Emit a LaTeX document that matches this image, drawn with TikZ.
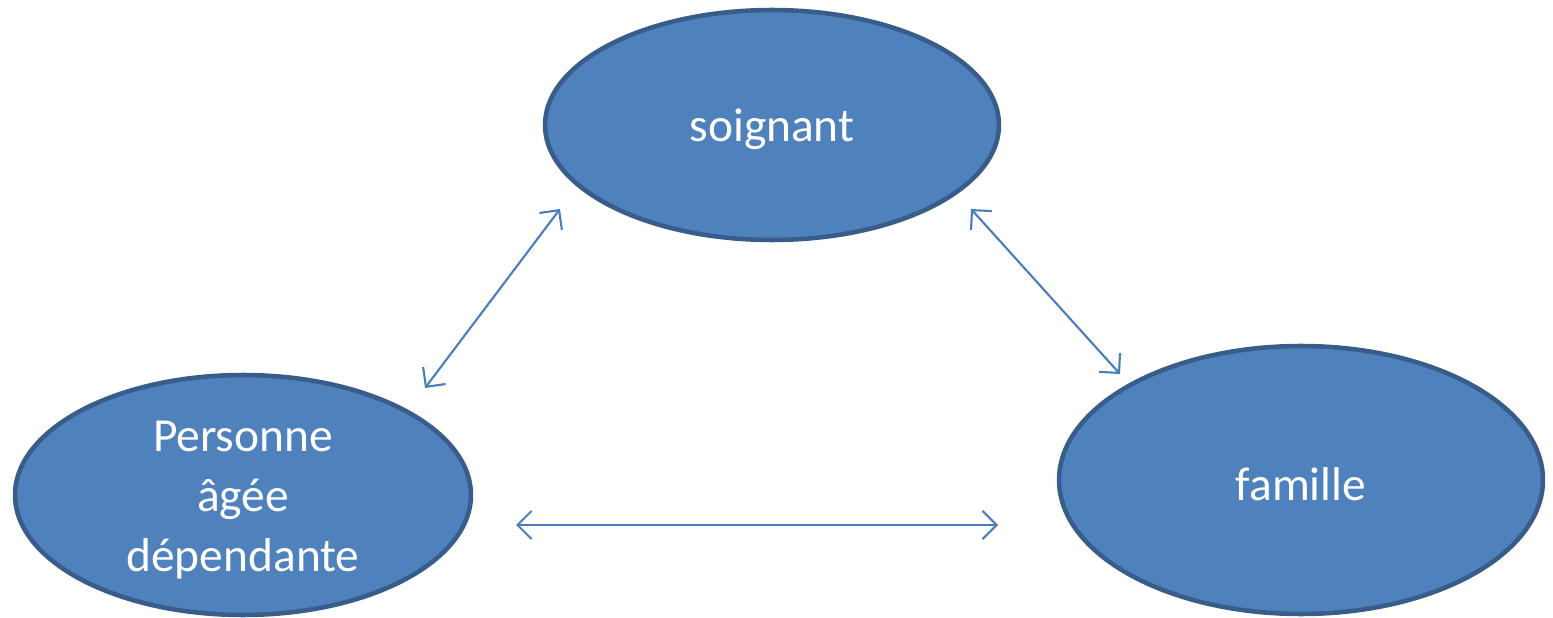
\documentclass[tikz,border=0pt]{standalone}
\usepackage{fontspec}
\setmainfont{Carlito}
\usetikzlibrary{arrows.meta,shapes.geometric}
\definecolor{fillblue}{HTML}{4F81BD}
\definecolor{edgeblue}{HTML}{385D8A}
\definecolor{linkblue}{HTML}{4A7EBB}
\tikzset{
  bubble/.style={ellipse, fill=fillblue, draw=edgeblue, line width=2.6pt, inner sep=0pt},
  bubbletext/.style={text=white, font=\fontsize{27}{34}\selectfont, align=center, inner sep=0pt},
  link/.style={draw=linkblue, line width=1.2pt, {Straight Barb[length=8pt,width=16pt,line width=1.2pt]}-{Straight Barb[length=8pt,width=16pt,line width=1.2pt]}}
}
\begin{document}
\begin{tikzpicture}[x=0.02cm,y=-0.02cm]
\useasboundingbox (0,0) rectangle (1553,618);
\node[bubble, minimum width=9.08cm, minimum height=4.6cm] (s) at (772,125) {};
\node[bubbletext] (st) at (772,129) {soignant};
\node[bubble, minimum width=9.12cm, minimum height=4.8cm] (p) at (243,495) {};
\node[bubbletext] (pt) at (243,500) {Personne\\âgée\\dépendante};
\node[bubble, minimum width=9.68cm, minimum height=5.36cm] (f) at (1301,480) {};
\node[bubbletext] (ft) at (1301,484) {famille};
\coordinate (a1) at (425,388);
\coordinate (a2) at (560,209);
\coordinate (b1) at (971,209);
\coordinate (b2) at (1120,374);
\coordinate (c1) at (516,525);
\coordinate (c2) at (998,525);
\draw[link] (a1) -- (a2);
\draw[link] (b1) -- (b2);
\draw[link] (c1) -- (c2);
\end{tikzpicture}
\end{document}
